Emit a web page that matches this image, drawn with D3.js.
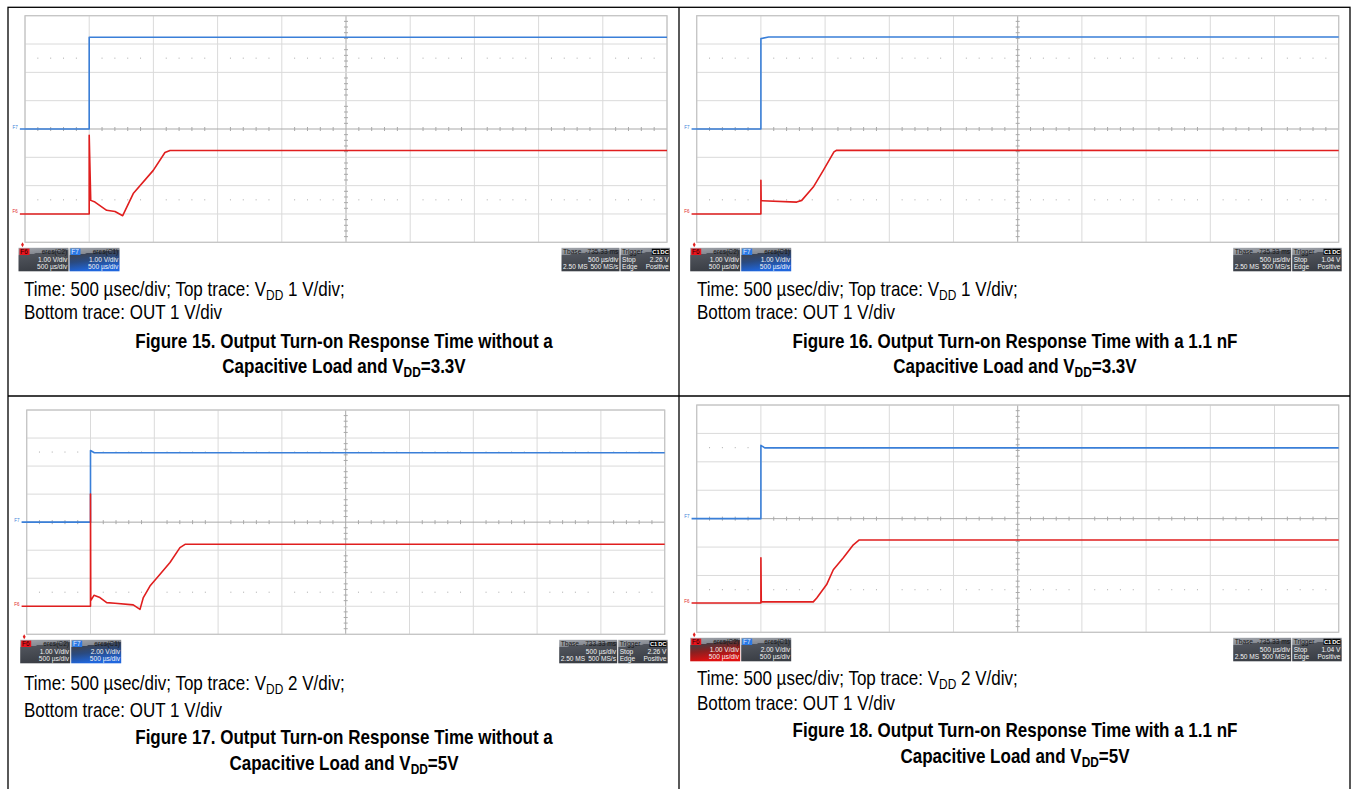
<!DOCTYPE html>
<html><head><meta charset="utf-8">
<script src="https://cdn.jsdelivr.net/npm/d3@7/dist/d3.min.js"></script>
<style>body{margin:0;background:#fff}svg{display:block}</style>
</head><body>
<svg id="c" width="1351" height="789"></svg>
<script>
// ---------------- data ----------------
const figureNumbers   = [15, 16, 17, 18];
const vddVoltsPerDiv  = [1, 1, 2, 2];
const outVoltsPerDiv  = [1, 1, 1, 1];
const triggerLevels   = ["2.26 V", "1.04 V", "2.26 V", "1.04 V"];
const timebaseDelays  = ["-735.33 ms", "-735.33 ms", "-733.33 ms", "-735.33 ms"];
const captionLoads    = ["without a", "with a 1.1 nF", "without a", "with a 1.1 nF"];
const captionVdd      = ["3.3V", "3.3V", "5V", "5V"];
const timeDivTicks    = [0, 500, 1000, 1500, 2000, 2500, 3000, 3500, 4000, 4500, 5000]; // µs
const voltDivTicks    = [-4, -3, -2, -1, 0, 1, 2, 3, 4]; // divisions

// traces: time in µs, value in volts
const vdd15T = [-40, 500, 500, 5000];
const vdd15V = [0, 0, 3.24, 3.24];
const out15T = [-40, 500, 500, 512, 545, 636, 701, 761, 843, 999, 1090, 1129, 5000];
const out15V = [0, 0, 2.78, 0.48, 0.42, 0.13, 0.085, -0.06, 0.72, 1.54, 2.17, 2.24, 2.24];

const vdd16T = [-40, 500, 500, 560, 5000];
const vdd16V = [0, 0, 3.19, 3.25, 3.25];
const out16T = [-40, 500, 500, 502, 779, 818, 908, 986, 1069, 1090, 5000];
const out16V = [0, 0, 1.19, 0.47, 0.42, 0.48, 0.95, 1.54, 2.19, 2.25, 2.24];

const vdd17T = [-40, 500, 500, 530, 5000];
const vdd17V = [0, 0, 5.11, 4.95, 4.95];
const out17T = [-40, 500, 500, 502, 527, 574, 627, 692, 835, 888, 914, 966, 1045, 1123, 1201, 1241, 5000];
const out17V = [0, 0, 4.0, 0.2, 0.39, 0.31, 0.13, 0.11, 0.05, -0.11, 0.31, 0.72, 1.14, 1.56, 2.09, 2.21, 2.21];

const vdd18T = [-40, 500, 500, 530, 5000];
const vdd18V = [0, 0, 5.16, 4.98, 4.98];
const out18T = [-40, 500, 500, 503, 908, 935, 1012, 1064, 1142, 1220, 1266, 5000];
const out18V = [0.03, 0.03, 1.62, 0.07, 0.07, 0.21, 0.68, 1.20, 1.62, 2.08, 2.25, 2.25];

const vddTraces = [[vdd15T, vdd15V], [vdd16T, vdd16V], [vdd17T, vdd17V], [vdd18T, vdd18V]];
const outTraces = [[out15T, out15V], [out16T, out16V], [out17T, out17V], [out18T, out18V]];

// ---------------- layout ----------------
const svg = d3.select("#c");
const FONT = "'Liberation Sans', Arial, Helvetica, sans-serif";
const CAP = 20, SUB = 14, SQUEEZE = 0.85;
const panels = [
  {plot: {x: 25,    y: 15.7, w: 642, h: 226.6}, tx: 24,  cx: 344,  ty: [296, 319, 348, 373], highlightF6: false},
  {plot: {x: 696.7, y: 15.7, w: 642, h: 226.6}, tx: 697, cx: 1015, ty: [296, 319, 348, 373], highlightF6: false},
  {plot: {x: 26.7,  y: 410,  w: 638, h: 224.3}, tx: 24,  cx: 344,  ty: [690, 717, 744, 770], highlightF6: false},
  {plot: {x: 696.7, y: 405,  w: 642, h: 227.3}, tx: 697, cx: 1015, ty: [685, 710, 737, 763], highlightF6: true}
];
const OUT_OFFSET_DIV = -3;

// gradients
const defs = svg.append("defs");
function grad(id, stops) {
  const g = defs.append("linearGradient").attr("id", id).attr("x1", 0).attr("y1", 0).attr("x2", 0.25).attr("y2", 1);
  stops.forEach(s => g.append("stop").attr("offset", s[0]).attr("stop-color", s[1]));
}
grad("gGray", [[0, "#a4a8ae"], [0.3, "#868a92"], [0.31, "#50545c"], [1, "#3a3e45"]]);
grad("gBlue", [[0, "#a4a8ae"], [0.3, "#868a92"], [0.31, "#3c4454"], [0.6, "#2a4a80"], [1, "#1f66dd"]]);
grad("gRed",  [[0, "#a4a8ae"], [0.3, "#868a92"], [0.31, "#4a3c40"], [0.6, "#8a2020"], [1, "#e01010"]]);

// table borders
const border = svg.append("g").attr("stroke", "#000").attr("stroke-width", 1.3).attr("fill", "none");
border.append("rect").attr("x", 8).attr("y", 7.3).attr("width", 1342).attr("height", 785);
border.append("line").attr("x1", 679).attr("x2", 679).attr("y1", 7.3).attr("y2", 789);
border.append("line").attr("x1", 8).attr("x2", 1350).attr("y1", 396).attr("y2", 396);

function box(g, x, y, w, h, fill, rows, label, labelColor, labelTextColor, tags) {
  g.append("rect").attr("x", x).attr("y", y).attr("width", w).attr("height", h).attr("fill", fill);
  const fs = 6.6;
  const ys = [y + 6.3, y + 14, y + 21.4];
  rows.forEach((r, i) => {
    const col = i === 0 ? "#161616" : "#f2f2f2";
    if (r[0]) g.append("text").attr("x", x + 1.5).attr("y", ys[i]).text(r[0])
      .attr("font-size", fs).attr("font-family", FONT).attr("fill", col);
    if (r[1]) g.append("text").attr("x", x + w - 1.2).attr("y", ys[i]).attr("text-anchor", "end").text(r[1])
      .attr("font-size", fs).attr("font-family", FONT).attr("fill", col);
  });
  if (label) {
    g.append("rect").attr("x", x + 1).attr("y", y + 0.8).attr("width", 10).attr("height", 6.4).attr("fill", labelColor);
    g.append("text").attr("x", x + 1.8).attr("y", y + 6.2).text(label).attr("font-size", 6.4)
      .attr("font-family", FONT).attr("fill", labelTextColor);
  }
  if (tags) {
    let tx = x + w - 1;
    tags.slice().reverse().forEach(t => {
      g.append("rect").attr("x", tx - 8.5).attr("y", y + 1).attr("width", 8.3).attr("height", 6)
        .attr("fill", "#050505");
      g.append("text").attr("x", tx - 4.35).attr("y", y + 6.1).attr("text-anchor", "middle").text(t)
        .attr("font-size", 5.8).attr("font-family", FONT).attr("font-weight", "bold").attr("fill", "#fff");
      tx -= 8.7;
    });
  }
}

function capText(g, x, y, anchor, bold) {
  return g.append("g").attr("transform", `translate(${x},${y}) scale(${SQUEEZE},1)`)
    .append("text").attr("x", 0).attr("y", 0).attr("text-anchor", anchor).attr("font-family", FONT)
    .attr("font-size", CAP).attr("font-weight", bold ? "bold" : "normal").attr("fill", "#000");
}

panels.forEach((p, i) => {
  const g = svg.append("g");
  const P = p.plot;
  const x = d3.scaleLinear().domain([0, 5000]).range([P.x, P.x + P.w]);
  const y = d3.scaleLinear().domain([-4, 4]).range([P.y + P.h, P.y]);

  // grid
  const grid = g.append("g").attr("fill", "none");
  grid.selectAll(".vx").data(timeDivTicks).join("line")
    .attr("x1", d => x(d)).attr("x2", d => x(d)).attr("y1", y(-4)).attr("y2", y(4))
    .attr("stroke", d => d === 2500 ? "#a9a9a9" : "#dadada").attr("stroke-width", 1);
  grid.selectAll(".hy").data(voltDivTicks).join("line")
    .attr("x1", x(0)).attr("x2", x(5000)).attr("y1", d => y(d)).attr("y2", d => y(d))
    .attr("stroke", d => d === 0 ? "#a9a9a9" : "#dadada").attr("stroke-width", 1);
  grid.append("rect").attr("x", x(0)).attr("y", y(4)).attr("width", P.w).attr("height", P.h)
    .attr("stroke", "#c4c4c4").attr("stroke-width", 1.2);

  // minor ticks (1/5 div) on the centre lines and dotted rows
  const minorT = d3.range(0, 5001, 100).filter(t => t % 500 !== 0);
  const minorV = d3.range(-40, 41, 2).map(v => v / 10).filter(v => Math.abs(v % 1) > 1e-6);
  g.append("g").selectAll("line").data(minorT).join("line")
    .attr("x1", d => x(d)).attr("x2", d => x(d)).attr("y1", y(0) - 2).attr("y2", y(0) + 2)
    .attr("stroke", "#a9a9a9");
  g.append("g").selectAll("line").data(minorV).join("line")
    .attr("x1", x(2500) - 2).attr("x2", x(2500) + 2).attr("y1", d => y(d)).attr("y2", d => y(d))
    .attr("stroke", "#a9a9a9");
  [2.5, -2.5].forEach(rv => {
    g.append("g").selectAll("line").data(minorT).join("line")
      .attr("x1", d => x(d)).attr("x2", d => x(d)).attr("y1", y(rv) - 0.6).attr("y2", y(rv) + 0.6)
      .attr("stroke", "#b8b8b8");
  });

  // traces
  const line = d3.line().x(d => x(d[0])).y(d => y(d[1]));
  const vdd = vddTraces[i][0].map((t, k) => [t, vddTraces[i][1][k] / vddVoltsPerDiv[i]]);
  const out = outTraces[i][0].map((t, k) => [t, outTraces[i][1][k] / outVoltsPerDiv[i] + OUT_OFFSET_DIV]);
  g.append("path").attr("d", line(vdd)).attr("fill", "none").attr("stroke", "#3a7fd8")
    .attr("stroke-width", 1.6).attr("stroke-linejoin", "round");
  g.append("path").attr("d", line(out)).attr("fill", "none").attr("stroke", "#e01e1e")
    .attr("stroke-width", 1.6).attr("stroke-linejoin", "round");

  // offset markers
  g.append("text").attr("x", x(-40) - 2).attr("y", y(0) - 0.5).attr("text-anchor", "end").text("F7")
    .attr("font-size", 4.5).attr("font-family", FONT).attr("fill", "#3a7fd8");
  g.append("text").attr("x", x(-40) - 2).attr("y", y(OUT_OFFSET_DIV) - 0.5).attr("text-anchor", "end").text("F6")
    .attr("font-size", 4.5).attr("font-family", FONT).attr("fill", "#e01e1e");

  // info boxes
  const by = P.y + P.h + 5.5, bh = 23.5;
  const lx = P.x - 6.5;
  g.append("path").attr("d", d3.symbol(d3.symbolDiamond, 7)()).attr("fill", "#e01e1e")
    .attr("transform", `translate(${lx + 4},${by - 3})`);
  const vdiv = d => d.toFixed(2) + " V/div";
  box(g, lx, by, 50, bh, p.highlightF6 ? "url(#gRed)" : "url(#gGray)",
      [[null, "eres(C2)"], [null, vdiv(outVoltsPerDiv[i])], [null, "500 µs/div"]], "F6", "#e8141e", "#2a0000");
  box(g, lx + 51, by, 50, bh, p.highlightF6 ? "url(#gGray)" : "url(#gBlue)",
      [[null, "eres(C1)"], [null, vdiv(vddVoltsPerDiv[i])], [null, "500 µs/div"]], "F7", "#2a78e4", "#e8f0ff");
  const rx = P.x + P.w + 3;
  box(g, rx - 108.5, by, 58, bh, "url(#gGray)",
      [["Tbase", timebaseDelays[i]], [null, "500 µs/div"], ["2.50 MS", "500 MS/s"]]);
  box(g, rx - 49.5, by, 49.5, bh, "url(#gGray)",
      [["Trigger", null], ["Stop", triggerLevels[i]], ["Edge", "Positive"]], null, null, null, ["C1", "DC"]);

  // captions
  const t1 = capText(g, p.tx, p.ty[0], "start", false);
  t1.append("tspan").text("Time: 500 µsec/div; Top trace: V");
  t1.append("tspan").text("DD").attr("font-size", SUB).attr("baseline-shift", "-4");
  t1.append("tspan").text(` ${vddVoltsPerDiv[i]} V/div;`);
  capText(g, p.tx, p.ty[1], "start", false).text(`Bottom trace: OUT ${outVoltsPerDiv[i]} V/div`);
  capText(g, p.cx, p.ty[2], "middle", true)
    .text(`Figure ${figureNumbers[i]}. Output Turn-on Response Time ${captionLoads[i]}`);
  const t4 = capText(g, p.cx, p.ty[3], "middle", true);
  t4.append("tspan").text("Capacitive Load and V");
  t4.append("tspan").text("DD").attr("font-size", SUB).attr("baseline-shift", "-4");
  t4.append("tspan").text(`=${captionVdd[i]}`);
});
</script>
</body></html>
